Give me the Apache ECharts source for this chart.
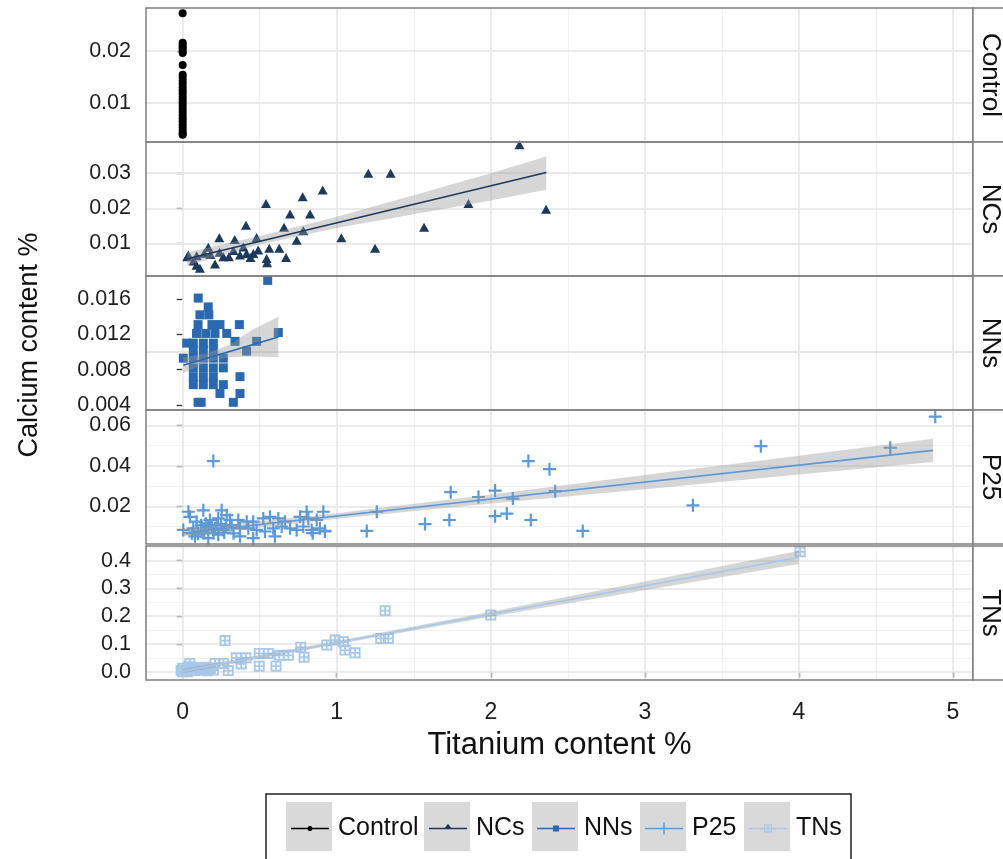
<!DOCTYPE html>
<html><head><meta charset="utf-8">
<script src="https://cdn.jsdelivr.net/npm/echarts@6/dist/echarts.min.js"></script>
<style>html,body{margin:0;padding:0;background:#fff}#c{width:1003px;height:859px}</style>
</head><body><div id="c"></div>
<script>
// ---------------- DATA ----------------
const panelNames = ['Control', 'NCs', 'NNs', 'P25', 'TNs'];
const xTicks = [0, 1, 2, 3, 4, 5];
const xMinor = [0.5, 1.5, 2.5, 3.5, 4.5];
const xRange = [-0.238, 5.13];
const yMins = [0.0024, 0.0007, 0.00343, 0.00132, -0.0299];
const yMaxs = [0.0283, 0.0389, 0.0186, 0.0677, 0.453];
const yTicks = [[0.01, 0.02], [0.01, 0.02, 0.03], [0.004, 0.008, 0.012, 0.016], [0.02, 0.04, 0.06], [0, 0.1, 0.2, 0.3, 0.4]];
const yMinor = [[0.005, 0.015, 0.025], [0.005, 0.015, 0.025, 0.035], [0.006, 0.01, 0.014, 0.018], [0.01, 0.03, 0.05], [0.05, 0.15, 0.25, 0.35, 0.45]];
const yDecimals = [2, 2, 3, 2, 1];

const controlPts = [[0,0.0273],[0,0.0216],[0,0.0212],[0,0.0208],[0,0.0204],[0,0.0200],[0,0.0196],[0,0.0173],
  [0,0.0154],[0,0.0148],[0,0.0142],[0,0.0136],[0,0.0130],[0,0.0124],[0,0.0118],[0,0.0112],[0,0.0106],[0,0.0100],
  [0,0.0094],[0,0.0088],[0,0.0082],[0,0.0076],[0,0.0070],[0,0.0064],[0,0.0058],[0,0.0052],[0,0.0046],[0,0.0041],[0,0.0038]];

const ncsPts = [[2.186,0.0381],[1.205,0.030],[1.35,0.030],[0.909,0.0252],[0.779,0.0233],[0.541,0.0214],[0.697,0.0184],
  [0.827,0.0184],[1.855,0.0214],[2.359,0.0197],[0.411,0.0152],[0.658,0.0146],[1.567,0.0146],[0.783,0.0136],[0.238,0.0116],
  [0.338,0.0111],[0.48,0.0117],[1.03,0.0116],[0.74,0.0109],[0.166,0.0089],[1.249,0.0086],[0.562,0.0086],[0.627,0.0086],
  [0.037,0.0067],[0.091,0.0065],[0.112,0.0029],[0.09,0.0038],[0.21,0.0041],[0.264,0.0062],[0.30,0.0062],[0.372,0.0067],
  [0.415,0.0071],[0.459,0.0071],[0.49,0.0081],[0.545,0.0057],[0.548,0.0045],[0.671,0.006],[0.24,0.0075],[0.33,0.008],
  [0.394,0.009],[0.03,0.0062],[0.07,0.005],[0.44,0.006],[0.18,0.0068],[0.14,0.0072]];
const ncsFit = [[0.03, 0.0056], [2.36, 0.0302]];
const ncsBand = [[0.03,0.0037,0.0075],[0.5,0.0097,0.0121],[1.0,0.0144,0.0176],[1.5,0.0183,0.0237],[2.0,0.0222,0.0300],[2.36,0.0253,0.0348]];

const nnsPts = [[0.552,0.0181],[0.101,0.0161],[0.166,0.0151],[0.112,0.0142],[0.17,0.0142],[0.242,0.0131],[0.368,0.0131],
  [0.09,0.0121],[0.15,0.0121],[0.21,0.0121],[0.286,0.0121],[0.026,0.011],[0.069,0.011],[0.134,0.011],[0.199,0.011],
  [0.34,0.0112],[0.48,0.0112],[0.621,0.0122],[0.415,0.0101],[0.004,0.0093],[0.069,0.0093],[0.134,0.0093],[0.199,0.0093],
  [0.264,0.0093],[0.069,0.0082],[0.134,0.0082],[0.199,0.0082],[0.264,0.0082],[0.069,0.0072],[0.134,0.0072],[0.199,0.0072],
  [0.372,0.0072],[0.069,0.0063],[0.134,0.0063],[0.199,0.0063],[0.264,0.0063],[0.242,0.0053],[0.372,0.0053],[0.12,0.0043],
  [0.329,0.0043],[0.1,0.0043],[0.069,0.0102],[0.134,0.0102],[0.199,0.0102],[0.1,0.0131],[0.19,0.0131]];
const nnsFit = [[0.004, 0.0085], [0.621, 0.0117]];
const nnsBand = [[0.004,0.0076,0.0094],[0.15,0.0088,0.0098],[0.3,0.0094,0.0108],[0.45,0.0095,0.0125],[0.621,0.0094,0.0140]];

const p25Pts = [[0.037,0.0173],[0.134,0.018],[0.253,0.018],[0.286,0.0156],[0.047,0.0148],[0.091,0.0124],[0.177,0.0132],
  [0.231,0.014],[0.307,0.0132],[0.361,0.0132],[0.416,0.0124],[0.458,0.0124],[0.523,0.014],[0.567,0.0148],[0.621,0.014],
  [0.664,0.0124],[0.762,0.0148],[0.805,0.0173],[0.913,0.0173],[0.816,0.014],[0.87,0.0132],[0.004,0.0083],[0.069,0.0091],
  [0.123,0.0075],[0.166,0.01],[0.21,0.0091],[0.264,0.0083],[0.318,0.0107],[0.372,0.0091],[0.426,0.0091],[0.48,0.0083],
  [0.534,0.0075],[0.588,0.0091],[0.643,0.01],[0.697,0.0091],[0.74,0.0083],[0.783,0.01],[0.837,0.0083],[0.891,0.0091],
  [0.923,0.0075],[0.08,0.0051],[0.166,0.0042],[0.231,0.0059],[0.372,0.0051],[0.458,0.0042],[0.599,0.0051],[0.924,0.0078],
  [0.844,0.0067],[0.12,0.0105],[0.15,0.0115],[0.19,0.0098],[0.22,0.0108],[0.25,0.0112],[0.28,0.0102],[0.14,0.0066],
  [0.2,0.0068],[0.27,0.007],[0.33,0.0066],[0.1,0.0064],[0.06,0.0066],[0.199,0.0424],
  [1.26,0.0173],[1.195,0.0078],[1.573,0.0112],[1.731,0.0132],[1.74,0.027],[1.92,0.0246],[2.028,0.0278],[2.028,0.0151],
  [2.104,0.0164],[2.143,0.0238],[2.244,0.0424],[2.381,0.0384],[2.418,0.0275],[2.26,0.0132],[2.597,0.0078],[3.312,0.0205],
  [3.753,0.0498],[4.593,0.049],[4.885,0.0644]];
const p25Fit = [[0.0, 0.0068], [4.87, 0.0477]];
const p25Band = [[0.0,0.0050,0.0086],[1.0,0.0138,0.0166],[2.0,0.0214,0.0258],[3.0,0.0285,0.0355],[4.0,0.0358,0.0450],[4.87,0.0420,0.0534]];

const tnsPts = [[1.314,0.22],[0.275,0.112],[2.0,0.204],[1.286,0.12],[1.335,0.12],[0.766,0.088],[0.788,0.052],[0.935,0.096],
  [0.989,0.114],[1.043,0.108],[1.054,0.078],[1.119,0.068],[0.497,0.066],[0.556,0.066],[0.497,0.02],[0.606,0.02],
  [0.627,0.059],[0.686,0.059],[0.348,0.05],[0.411,0.05],[0.38,0.028],[0.21,0.03],[0.264,0.03],[0.296,0.004],[0.047,0.03],
  [4.008,0.432],[-0.01,0.005],[0.0,0.012],[0.02,0.002],[0.04,0.018],[0.06,0.008],[0.08,0.004],[0.1,0.012],[0.12,0.006],
  [0.14,0.01],[0.16,0.003],[0.18,0.012],[0.2,0.006],[0.03,0.0],[0.0,0.0],[0.09,0.015],[0.15,0.016]];
const tnsFit = [[0.0, 0.002], [4.0, 0.412]];
const tnsBand = [[0.0,-0.006,0.010],[1.0,0.0985,0.1105],[2.0,0.198,0.216],[3.0,0.2935,0.3255],[4.0,0.388,0.436]];

// ---------------- STYLE / LAYOUT ----------------
const FONT = "'Liberation Sans',Arial,sans-serif";
const colors = ['#000000', '#1d3a5c', '#2b68ae', '#5b9ad6', '#a8c8ea'];
const panelTops = [8, 142, 276, 410, 546];
const panelH = 134, gridLeft = 146, gridW = 827;
const plusSym = 'path://M5.4,0H7.6V5.4H13V7.6H7.6V13H5.4V7.6H0V5.4H5.4Z';
const sqPlusSym = 'path://M0,0H12V12H0Z M2,2V5H5V2Z M7,2V5H10V2Z M2,7V10H5V7Z M7,7V10H10V7Z';
const symbols = ['circle', 'triangle', 'rect', plusSym, sqPlusSym];
const symSizes = [8, [10, 9], 9, 13, 11];
const ptsList = [controlPts, ncsPts, nnsPts, p25Pts, tnsPts];
const fitList = [null, ncsFit, nnsFit, p25Fit, tnsFit];
const bandList = [null, ncsBand, nnsBand, p25Band, tnsBand];

const EXT = 'M19,0h0.01v0.01h-0.01Z M19,11.99h0.01v0.01h-0.01Z ';
const LINE = 'M0,5.3H38V6.7H0Z ';
const legendIcons = [
  'path://' + EXT + LINE + 'M16.5,6A2.5,2.5 0 1 1 21.5,6A2.5,2.5 0 1 1 16.5,6Z',
  'path://' + EXT + LINE + 'M19,1.2L23,6.5H15Z',
  'path://' + EXT + LINE + 'M16,3H22V9H16Z',
  'path://' + EXT + LINE + 'M18.3,0H19.7V12H18.3Z',
  'path://' + EXT + LINE + 'M15,2H23V10H15Z M16.2,3.2V5.4H18.4V3.2Z M19.6,3.2V5.4H21.8V3.2Z M16.2,6.6V8.8H18.4V6.6Z M19.6,6.6V8.8H21.8V6.6Z'
];
const legendLefts = [286, 424, 532, 640, 744];

const grids = [], xAxes = [], yAxes = [], series = [], legends = [], graphics = [];
const MAJ = '#e4e4e4', MIN = '#f2f2f2';

for (let i = 0; i < 5; i++) {
  grids.push({ left: gridLeft, top: panelTops[i], width: gridW, height: panelH, show: false });
  const last = i === 4;
  xAxes.push({
    type: 'value', gridIndex: i, min: xRange[0], max: xRange[1], show: true,
    axisLine: { show: false }, splitLine: { show: false },
    axisTick: { show: last, customValues: xTicks, length: 6, lineStyle: { color: '#333', width: 1.3 } },
    axisLabel: { show: last, customValues: xTicks, margin: 21, fontSize: 23, fontFamily: FONT, color: '#1e1e1e',
      formatter: v => String(v) },
    name: last ? 'Titanium content %' : '', nameLocation: 'middle', nameGap: 50,
    nameTextStyle: { fontSize: 31, fontFamily: FONT, color: '#111' }
  });
  const dec = yDecimals[i];
  yAxes.push({
    type: 'value', gridIndex: i, min: yMins[i], max: yMaxs[i],
    axisLine: { show: false }, splitLine: { show: false },
    axisTick: { show: true, customValues: yTicks[i], length: 6, lineStyle: { color: '#333', width: 1.3 } },
    axisLabel: { customValues: yTicks[i], margin: 15, fontSize: 21.5, fontFamily: FONT, color: '#1e1e1e',
      formatter: v => Number(v).toFixed(dec) }
  });

  const ml = [];
  xMinor.forEach(v => ml.push({ xAxis: v, lineStyle: { color: MIN, width: 1 } }));
  yMinor[i].forEach(v => ml.push({ yAxis: v, lineStyle: { color: MIN, width: 1 } }));
  xTicks.forEach(v => ml.push({ xAxis: v, lineStyle: { color: MAJ, width: 1.5 } }));
  yTicks[i].forEach(v => ml.push({ yAxis: v, lineStyle: { color: MAJ, width: 1.5 } }));

  series.push({
    name: panelNames[i], type: 'scatter', xAxisIndex: i, yAxisIndex: i, z: 2, clip: false,
    data: ptsList[i], symbol: symbols[i], symbolSize: symSizes[i],
    itemStyle: { color: colors[i], opacity: 1 }, silent: true,
    markLine: { silent: true, symbol: ['none', 'none'], label: { show: false }, z: 1, animation: false,
      lineStyle: { type: 'solid' }, emphasis: { disabled: true }, data: ml }
  });
  if (bandList[i]) {
    const band = bandList[i];
    series.push({
      name: panelNames[i] + ' band', type: 'custom', xAxisIndex: i, yAxisIndex: i, z: 3, silent: true,
      data: band,
      renderItem: (params, api) => {
        if (params.dataIndex !== 0) return null;
        const pts = [];
        band.forEach(r => pts.push(api.coord([r[0], r[1]])));
        for (let k = band.length - 1; k >= 0; k--) pts.push(api.coord([band[k][0], band[k][2]]));
        return { type: 'polygon', shape: { points: pts }, style: { fill: 'rgba(153,153,153,0.4)' } };
      }
    });
    series.push({
      name: panelNames[i] + ' fit', type: 'line', xAxisIndex: i, yAxisIndex: i, z: 4, silent: true,
      data: fitList[i], showSymbol: false, symbol: 'none',
      lineStyle: { color: colors[i], width: 1.6 }
    });
  }
  legends.push({
    data: [{ name: panelNames[i], icon: legendIcons[i] }],
    left: legendLefts[i], top: 811, itemWidth: 46, itemHeight: 12, selectedMode: false,
    textStyle: { fontSize: 25, fontFamily: FONT, color: '#111', lineHeight: 25 }
  });
  // panel border
  graphics.push({ type: 'rect', z: 100, silent: true,
    shape: { x: gridLeft, y: panelTops[i], width: gridW, height: panelH },
    style: { fill: 'none', stroke: '#808080', lineWidth: 1.5 } });
  // strip
  graphics.push({ type: 'rect', z: 100, silent: true,
    shape: { x: gridLeft + gridW, y: panelTops[i], width: 40, height: panelH },
    style: { fill: '#ffffff', stroke: '#808080', lineWidth: 1.5 } });
  graphics.push({ type: 'text', z: 101, silent: true, x: 990, y: panelTops[i] + panelH / 2, rotation: -Math.PI / 2,
    style: { text: panelNames[i], fontSize: 26, fontFamily: FONT, fill: '#111', align: 'center', verticalAlign: 'middle' } });
  // legend key background
  graphics.push({ type: 'rect', z: 0, silent: true,
    shape: { x: legendLefts[i], y: 802, width: 46, height: 49 },
    style: { fill: '#d9d9d9' } });
}
// legend box
graphics.push({ type: 'rect', z: 0, silent: true, shape: { x: 266, y: 794, width: 585, height: 80 },
  style: { fill: 'none', stroke: '#222', lineWidth: 1.5 } });
// y axis title
graphics.push({ type: 'text', z: 10, silent: true, x: 30, y: 345, rotation: Math.PI / 2,
  style: { text: 'Calcium content %', fontSize: 27, fontFamily: FONT, fill: '#111', align: 'center', verticalAlign: 'middle' } });

const chart = echarts.init(document.getElementById('c'), null, { renderer: 'canvas' });
chart.setOption({
  animation: false,
  backgroundColor: '#ffffff',
  grid: grids, xAxis: xAxes, yAxis: yAxes, series: series, legend: legends, graphic: graphics
});
</script></body></html>
